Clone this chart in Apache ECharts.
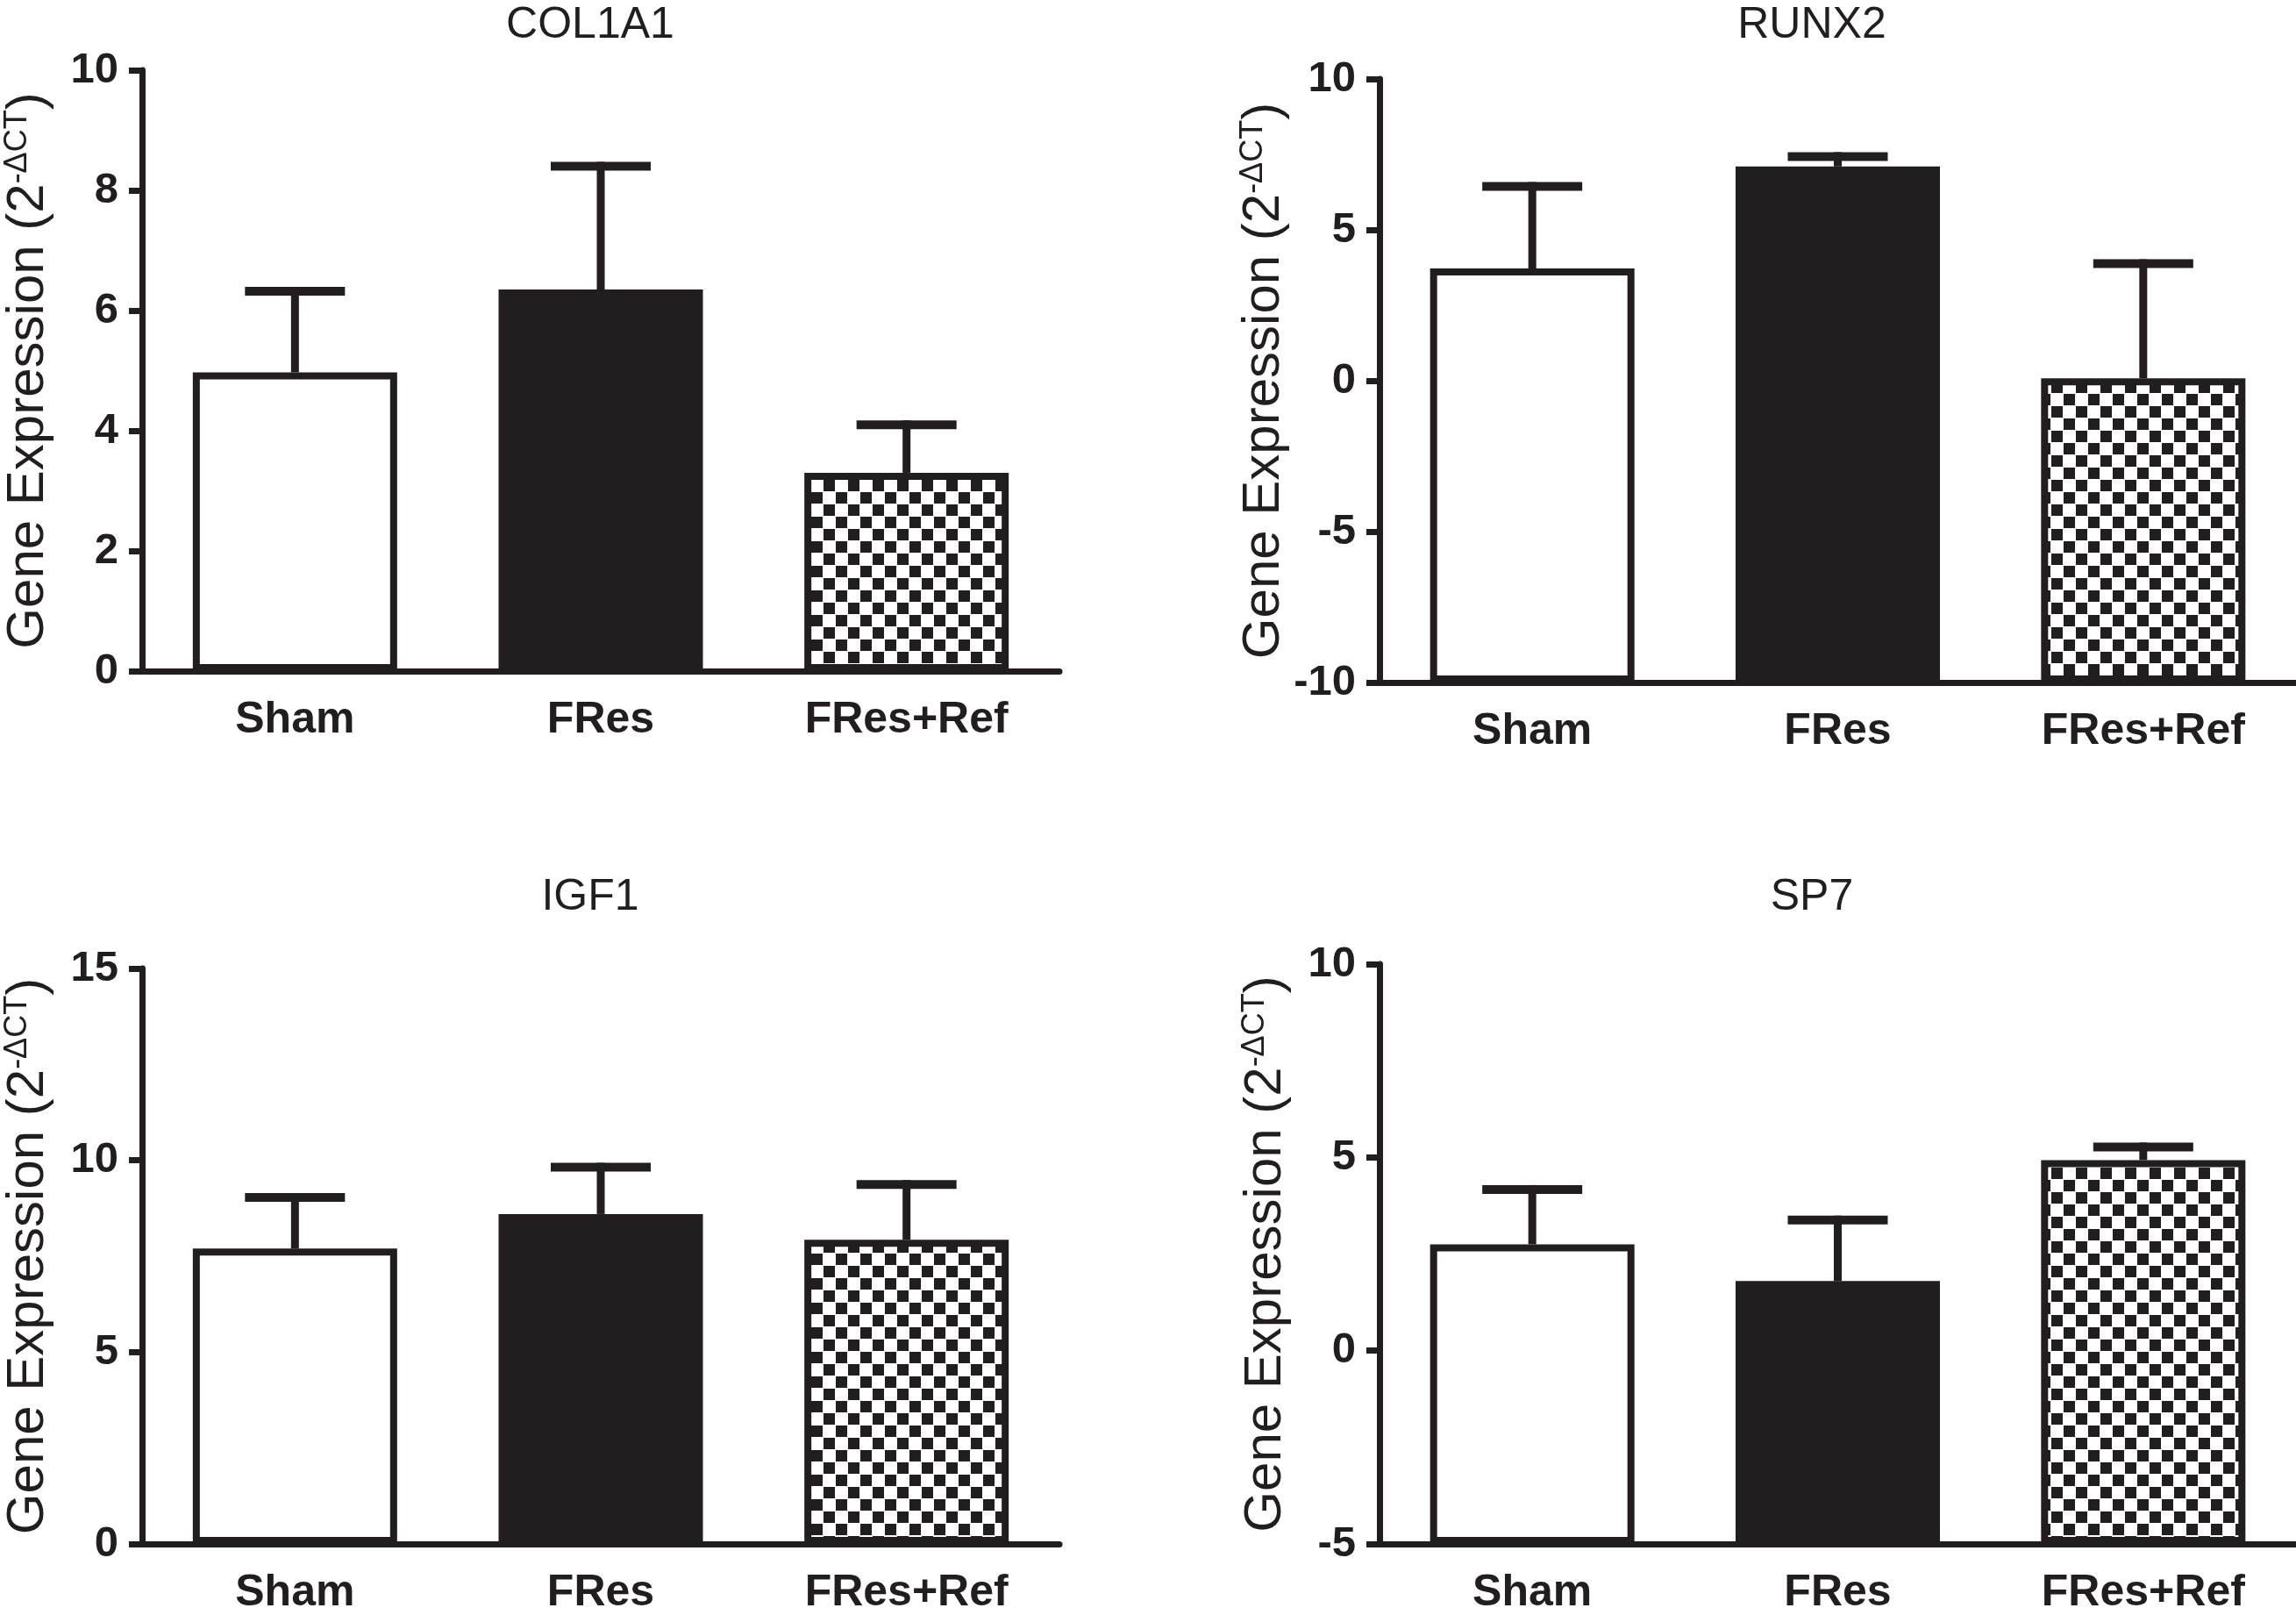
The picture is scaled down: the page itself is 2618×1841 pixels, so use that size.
<!DOCTYPE html>
<html>
<head>
<meta charset="utf-8" />
<title>Gene expression (2-ΔCT)</title>
<script src="https://cdn.jsdelivr.net/npm/echarts@6/dist/echarts.min.js"></script>
<style>
html, body { margin: 0; padding: 0; background: #fff; }
#main { width: 2618px; height: 1841px; }
</style>
</head>
<body>
<div id="main"></div>
<script>
// categories and values
var groups = ["Sham", "FRes", "FRes+Ref"];
var genes = ["COL1A1", "RUNX2", "IGF1", "SP7"];

var col1a1Mean = [4.97, 6.35, 3.3];
var col1a1Sem = [1.35, 2.05, 0.8];
var runx2Mean = [3.72, 7.1, 0.08];
var runx2Sem = [2.72, 0.33, 3.8];
var igf1Mean = [7.7, 8.6, 7.93];
var igf1Sem = [1.33, 1.22, 1.44];
var sp7Mean = [2.75, 1.8, 4.93];
var sp7Sem = [1.42, 1.58, 0.34];

var yMin = [0, -10, 0, -5];
var yMax = [10, 10, 15, 10];
var yStep = [2, 5, 5, 5];

var means = [col1a1Mean, runx2Mean, igf1Mean, sp7Mean];
var sems = [col1a1Sem, runx2Sem, igf1Sem, sp7Sem];

var ink = "#221e1f";
var sans = "'Liberation Sans', Arial, Helvetica, sans-serif";

// checkerboard fill for the third group
var cv = document.createElement("canvas");
cv.width = 28; cv.height = 28;
var ctx = cv.getContext("2d");
ctx.fillStyle = "#ffffff"; ctx.fillRect(0, 0, 28, 28);
ctx.fillStyle = ink; ctx.fillRect(1, 1, 13, 13); ctx.fillRect(15, 15, 13, 13);
var checker = { image: cv, repeat: "repeat" };
var fills = ["#ffffff", ink, checker];

// panel layout (pixels)
var panels = [
  { left: 162, top: 80, height: 685, tx: 673, ty: 4 },
  { left: 1573, top: 90, height: 688, tx: 2066, ty: 4 },
  { left: 162, top: 1104, height: 666, tx: 673, ty: 998 },
  { left: 1573, top: 1099, height: 666, tx: 2066, ty: 998 }
];

function errorBar(params, api) {
  var x = api.value(0), m = api.value(1), e = api.value(2);
  var p0 = api.coord([x, m]);
  var p1 = api.coord([x, m + e]);
  return {
    type: "group",
    children: [
      { type: "line", shape: { x1: p0[0], y1: p0[1], x2: p1[0], y2: p1[1] - 5 }, style: { stroke: ink, lineWidth: 9 } },
      { type: "line", shape: { x1: p1[0] - 57, y1: p1[1], x2: p1[0] + 57, y2: p1[1] }, style: { stroke: ink, lineWidth: 10 } }
    ]
  };
}

var grids = [], xAxes = [], yAxes = [], titles = [], series = [];

panels.forEach(function (p, i) {
  grids.push({ left: p.left, top: p.top, width: 1046, height: p.height, containLabel: false });
  titles.push({
    text: genes[i], left: p.tx, top: p.ty, textAlign: "center", padding: 0,
    textStyle: { fontFamily: sans, fontWeight: "normal", fontSize: 50, color: ink }
  });
  xAxes.push({
    type: "category", gridIndex: i, data: groups,
    axisLine: { onZero: false, lineStyle: { color: ink, width: 7 } },
    axisTick: { alignWithLabel: true, length: 17, lineStyle: { color: ink, width: 7 } },
    axisLabel: { margin: 31, fontFamily: sans, fontWeight: "bold", fontSize: 50, color: ink },
    splitLine: { show: false }
  });
  yAxes.push({
    type: "value", gridIndex: i, min: yMin[i], max: yMax[i], interval: yStep[i],
    name: "Gene Expression (2{s|-ΔCT})",
    nameLocation: "middle", nameGap: 100,
    nameTextStyle: {
      fontFamily: sans, fontSize: 60, color: ink,
      rich: { s: { fontFamily: sans, fontSize: 36, color: ink, verticalAlign: "top" } }
    },
    axisLine: { show: true, lineStyle: { color: ink, width: 7 } },
    axisTick: { show: true, length: 15, lineStyle: { color: ink, width: 7 } },
    axisLabel: { margin: 27, fontFamily: sans, fontWeight: "bold", fontSize: 49, color: ink },
    splitLine: { show: false }
  });

  // invisible base so each bar rises from the bottom of its axis
  series.push({
    type: "bar", xAxisIndex: i, yAxisIndex: i, stack: "s" + i, stackStrategy: "all",
    silent: true, barWidth: 233,
    itemStyle: { color: "rgba(0,0,0,0)" },
    data: groups.map(function () { return yMin[i]; })
  });
  series.push({
    type: "bar", xAxisIndex: i, yAxisIndex: i, stack: "s" + i, stackStrategy: "all",
    barWidth: 233,
    itemStyle: { borderColor: ink, borderWidth: 8 },
    data: means[i].map(function (v, j) {
      return { value: v - yMin[i], itemStyle: { color: fills[j] } };
    })
  });
  series.push({
    type: "custom", xAxisIndex: i, yAxisIndex: i, z: 5,
    renderItem: errorBar,
    encode: { x: 0, y: 1 },
    data: means[i].map(function (v, j) { return [j, v, sems[i][j]]; })
  });
});

var chart = echarts.init(document.getElementById("main"));
chart.setOption({
  backgroundColor: "#ffffff",
  animation: false,
  title: titles,
  grid: grids,
  xAxis: xAxes,
  yAxis: yAxes,
  series: series
});
</script>
</body>
</html>
